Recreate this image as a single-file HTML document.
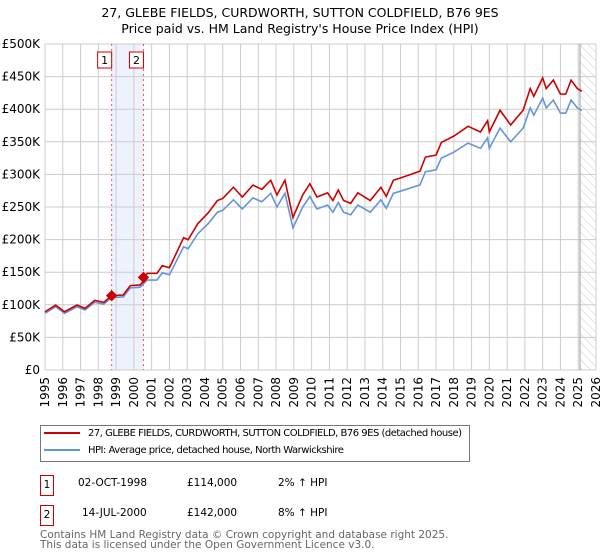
<!DOCTYPE html>
<html><head><meta charset="utf-8"><style>
body{margin:0;background:#fff;font-family:"DejaVu Sans","Liberation Sans",sans-serif;}
#wrap{position:relative;width:600px;height:560px;overflow:hidden}
</style></head><body>
<div id="wrap">
<svg id="chart" width="600" height="560" style="position:absolute;left:0;top:0">
<defs><pattern id="hatch" width="6" height="6" patternUnits="userSpaceOnUse" patternTransform="rotate(-45)"><line x1="0" y1="0" x2="0" y2="6" stroke="#ccc" stroke-width="1"/></pattern></defs>
<text x="300" y="17" text-anchor="middle" font-size="12.5">27, GLEBE FIELDS, CURDWORTH, SUTTON COLDFIELD, B76 9ES</text>
<text x="300" y="33" text-anchor="middle" font-size="12.5">Price paid vs. HM Land Registry's House Price Index (HPI)</text>
<g id="grid"></g><g id="marks"></g><g id="axes"></g>
</svg>
<div style="position:absolute;left:40px;top:425px;width:428px;height:35px;border:1px solid #777;font-size:10px;white-space:nowrap;letter-spacing:-0.5px">
 <div style="position:absolute;left:3px;top:2px"><span style="display:inline-block;width:36px;height:2px;background:#cc0000;vertical-align:middle;margin-right:8px"></span>27, GLEBE FIELDS, CURDWORTH, SUTTON COLDFIELD, B76 9ES (detached house)</div>
 <div style="position:absolute;left:3px;top:19px"><span style="display:inline-block;width:36px;height:2px;background:#6495d8;vertical-align:middle;margin-right:8px"></span>HPI: Average price, detached house, North Warwickshire</div>
</div>
<div style="font-size:10.5px">
 <div style="position:absolute;left:40px;top:475px;width:12px;height:19px;border:1px solid #c00;text-align:center;line-height:19px">1</div>
 <div style="position:absolute;left:78px;top:477px">02-OCT-1998</div>
 <div style="position:absolute;left:187px;top:477px">£114,000</div>
 <div style="position:absolute;left:278px;top:477px">2% ↑ HPI</div>
 <div style="position:absolute;left:40px;top:505px;width:12px;height:19px;border:1px solid #c00;text-align:center;line-height:19px">2</div>
 <div style="position:absolute;left:82px;top:507px">14-JUL-2000</div>
 <div style="position:absolute;left:187px;top:507px">£142,000</div>
 <div style="position:absolute;left:278px;top:507px">8% ↑ HPI</div>
 <div style="position:absolute;left:40px;top:530px;color:#666;line-height:10px">Contains HM Land Registry data © Crown copyright and database right 2025.<br>This data is licensed under the Open Government Licence v3.0.</div>
</div>
</div>
<script>
const hpiYears=[1995,1995.6,1996.1,1996.8,1997.25,1997.8,1998.3,1998.75,1999.4,1999.8,2000.35,2000.75,2001.3,2001.6,2002.0,2002.8,2003.05,2003.6,2004.2,2004.7,2005.0,2005.6,2006.1,2006.7,2007.2,2007.7,2008.05,2008.5,2008.95,2009.5,2009.9,2010.3,2010.9,2011.2,2011.5,2011.8,2012.2,2012.6,2013.3,2013.9,2014.2,2014.6,2015.2,2016.1,2016.4,2017.0,2017.3,2018.0,2018.8,2019.5,2019.9,2020.0,2020.6,2021.2,2021.9,2022.3,2022.5,2023.0,2023.2,2023.6,2024.0,2024.3,2024.6,2024.95,2025.2];
const hpiValues=[87,97,87,97,92,104,101,111,112,126,127,138,138,149,146,189,186,209,225,242,245,261,247,264,258,271,250,271,218,250,266,247,253,242,257,242,238,253,242,261,248,271,276,284,304,307,325,334,348,340,356,340,371,350,371,402,391,417,402,414,394,394,414,402,398];
const saleYears=[1998.75,2000.54];
const salePrices=[114,142];
const yTicks=[0,50,100,150,200,250,300,350,400,450,500];
const yTickLabels=["£0","£50K","£100K","£150K","£200K","£250K","£300K","£350K","£400K","£450K","£500K"];
const xStart=1995,xEnd=2026;
const L=45,R=596,T=44,B=370;
const sx=y=>L+(y-xStart)/(xEnd-xStart)*(R-L);
const sy=v=>B-v/500*(B-T);
const NS="http://www.w3.org/2000/svg";
function mk(tag,attrs,parent){const e=document.createElementNS(NS,tag);for(const k in attrs)e.setAttribute(k,attrs[k]);parent.appendChild(e);return e;}
const grid=document.getElementById('grid'),marks=document.getElementById('marks'),axes=document.getElementById('axes');
function hpiAt(t){for(let i=0;i<hpiYears.length-1;i++){if(t>=hpiYears[i]&&t<=hpiYears[i+1]){const f=(t-hpiYears[i])/(hpiYears[i+1]-hpiYears[i]);return hpiValues[i]+f*(hpiValues[i+1]-hpiValues[i]);}}return hpiValues[hpiValues.length-1];}
let sh=mk('rect',{x:sx(saleYears[0]),y:T,width:sx(saleYears[1])-sx(saleYears[0]),height:B-T,fill:'#eef2fc'},grid);


let ht=mk('rect',{x:sx(2025.1),y:T,width:R-sx(2025.1),height:B-T,fill:'url(#hatch)'},grid);


for(let y=xStart;y<=xEnd;y++){
 let l=mk('line',{x1:sx(y),x2:sx(y),y1:T,y2:B,stroke:'#ccc','stroke-width':1},grid);
 
 
 let t=mk('text',{x:0,y:0,'font-size':12,'text-anchor':'end',transform:`translate(${sx(y)+4},${B+7}) rotate(-90)`},axes);
 t.textContent=y;
 
 
}
yTicks.forEach((v,i)=>{
 let l=mk('line',{x1:L,x2:R,y1:sy(v),y2:sy(v),stroke:'#ccc','stroke-width':1},grid);
 
 
 let t=mk('text',{x:40,y:sy(v)+4,'font-size':12,'text-anchor':'end'},axes);
 t.textContent=yTickLabels[i];
 
 
});
let fl=mk('line',{x1:sx(2025.1),x2:sx(2025.1),y1:T,y2:B,stroke:'#999','stroke-width':1},grid);


saleYears.forEach((s,i)=>{
 let l=mk('line',{x1:sx(s),x2:sx(s),y1:T,y2:B,stroke:'#e55','stroke-width':1,'stroke-dasharray':'2,3'},marks);
 
 
 let r=mk('rect',{x:sx(s)-14,y:52,width:14,height:16,fill:'#fff',stroke:'#c00'},marks);
 
 
 let t=mk('text',{x:sx(s)-7,y:64,'font-size':11,'text-anchor':'middle'},marks);
 t.textContent=String(i+1);
 
 
});
let hp=mk('polyline',{points:hpiYears.map((y,i)=>sx(y)+','+sy(hpiValues[i])).join(' '),fill:'none',stroke:'#6495d8','stroke-width':1.6},marks);


const f1=salePrices[0]/hpiAt(saleYears[0]),f2=salePrices[1]/hpiAt(saleYears[1]);
const pts=[];
hpiYears.forEach((y,i)=>{
 if(y<saleYears[1]&&hpiYears[i+1]>saleYears[1]){pts.push([y,hpiValues[i]*f1]);pts.push([saleYears[1],hpiAt(saleYears[1])*f1]);pts.push([saleYears[1],salePrices[1]]);return;}
 pts.push([y,hpiValues[i]*(y<saleYears[1]?f1:f2)]);
});
let pl=mk('polyline',{points:pts.map(p=>sx(p[0])+','+sy(p[1])).join(' '),fill:'none',stroke:'#cc0000','stroke-width':1.6},marks);


saleYears.forEach((s,i)=>{
 let d=mk('rect',{x:sx(s)-4,y:sy(salePrices[i])-4,width:8,height:8,fill:'#cc0000',transform:`rotate(45 ${sx(s)} ${sy(salePrices[i])})`},marks);
 
 
});
</script>
</body></html>
